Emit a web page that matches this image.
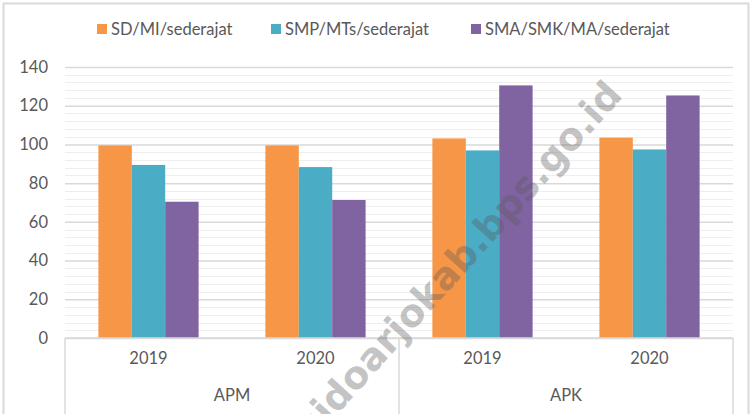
<!DOCTYPE html>
<html lang="en">
  <head>
    <meta charset="UTF-8" />
    <title>APM dan APK</title>
    <style>
      body {
        margin: 0;
        background-color: #ffffff;
      }
      text {
        font-family: Lato, "Open Sans", sans-serif;
        fill: #595959;
      }
    </style>
  </head>
  <body>
    <div id="chart"></div>

    <script src="https://d3js.org/d3.v7.min.js"></script>
    <script>
      // Data
      const groups = ["APM", "APK"];
      const years = ["2019", "2020"];
      const series = ["SD/MI/sederajat", "SMP/MTs/sederajat", "SMA/SMK/MA/sederajat"];
      const colors = ["#F79646", "#4BACC6", "#8064A2"];
      // one array per series, in order APM 2019, APM 2020, APK 2019, APK 2020
      const sdValues = [99.5, 99.5, 103.1, 103.5];
      const smpValues = [89.4, 88.3, 96.9, 97.4];
      const smaValues = [70.4, 71.3, 130.5, 125.3];
      const yTicks = [0, 20, 40, 60, 80, 100, 120, 140];

      const width = 752;
      const height = 414;
      const margin = { top: 67, right: 19, bottom: 76, left: 65 };

      const categories = [];
      groups.forEach((g) => years.forEach((yr) => categories.push(g + " " + yr)));
      const valueSets = [sdValues, smpValues, smaValues];

      const svg = d3
        .select("#chart")
        .append("svg")
        .attr("width", width)
        .attr("height", height);

      // outer frame
      svg
        .append("rect")
        .attr("x", 3.5)
        .attr("y", 3.5)
        .attr("width", 745)
        .attr("height", 430)
        .attr("fill", "none")
        .attr("stroke", "#d9d9d9")
        .attr("stroke-width", 2);

      const x0 = d3
        .scaleBand()
        .domain(categories)
        .range([margin.left, width - margin.right])
        .paddingInner(0.4)
        .paddingOuter(0.2);

      const x1 = d3
        .scaleBand()
        .domain(series)
        .range([0, x0.bandwidth()]);

      const y = d3
        .scaleLinear()
        .domain([0, 140])
        .range([height - margin.bottom, margin.top]);

      // minor gridlines
      const minor = d3.range(0, 141, 4).filter((v) => v % 20 !== 0);
      svg
        .append("g")
        .selectAll("line")
        .data(minor)
        .join("line")
        .attr("x1", margin.left)
        .attr("x2", width - margin.right)
        .attr("y1", (d) => Math.round(y(d)) + 0.5)
        .attr("y2", (d) => Math.round(y(d)) + 0.5)
        .attr("stroke", "#eeeeee")
        .attr("stroke-width", 1);

      // major gridlines + y labels
      const yAxis = d3
        .axisLeft(y)
        .tickValues(yTicks)
        .tickSize(-(width - margin.left - margin.right))
        .tickPadding(17);
      const gy = svg
        .append("g")
        .attr("transform", "translate(" + margin.left + ",0)")
        .call(yAxis);
      gy.select(".domain").remove();
      gy.selectAll(".tick line").attr("stroke", "#d9d9d9").attr("stroke-width", 1.5);
      gy.selectAll(".tick text")
        .style("font-size", "16.5px")
        .style("font-family", "Lato, 'Open Sans', sans-serif")
        .attr("fill", "#595959");

      // bars
      const gBars = svg
        .append("g")
        .selectAll("g")
        .data(categories)
        .join("g")
        .attr("transform", (d) => "translate(" + x0(d) + ",0)");

      gBars
        .selectAll("rect")
        .data((d, i) => series.map((s, j) => ({ s: s, v: valueSets[j][i], c: colors[j] })))
        .join("rect")
        .attr("x", (d) => x1(d.s))
        .attr("y", (d) => y(d.v))
        .attr("width", x1.bandwidth())
        .attr("height", (d) => y(0) - y(d.v))
        .attr("fill", (d) => d.c);

      // category axis box
      const baseY = y(0);
      const axisG = svg.append("g").attr("stroke", "#d9d9d9").attr("stroke-width", 1.5);
      axisG
        .append("line")
        .attr("x1", margin.left)
        .attr("x2", width - margin.right)
        .attr("y1", baseY)
        .attr("y2", baseY);
      const groupEdges = [margin.left, (margin.left + width - margin.right) / 2, width - margin.right];
      axisG
        .selectAll("line.sep")
        .data(groupEdges)
        .join("line")
        .attr("class", "sep")
        .attr("x1", (d) => d)
        .attr("x2", (d) => d)
        .attr("y1", baseY)
        .attr("y2", height);

      svg
        .append("g")
        .selectAll("text")
        .data(categories)
        .join("text")
        .attr("x", (d) => x0(d) + x0.bandwidth() / 2)
        .attr("y", baseY + 26)
        .attr("text-anchor", "middle")
        .style("font-size", "16.5px")
        .text((d) => d.split(" ")[1]);

      svg
        .append("g")
        .selectAll("text")
        .data(groups)
        .join("text")
        .attr("x", (d, i) => (groupEdges[i] + groupEdges[i + 1]) / 2)
        .attr("y", baseY + 63)
        .attr("text-anchor", "middle")
        .style("font-size", "16.5px")
        .text((d) => d);

      // legend
      const legendX = [97, 271, 471];
      const legend = svg
        .append("g")
        .selectAll("g")
        .data(series)
        .join("g")
        .attr("transform", (d, i) => "translate(" + legendX[i] + ",24)");
      legend
        .append("rect")
        .attr("width", 10)
        .attr("height", 10)
        .attr("fill", (d, i) => colors[i]);
      legend
        .append("text")
        .attr("x", 14)
        .attr("y", 11)
        .style("font-size", "16.5px")
        .text((d) => d);

      // watermark
      svg
        .append("text")
        .attr("transform", "translate(624,96) rotate(-48)")
        .attr("text-anchor", "end")
        .style("font-size", "38px")
        .style("font-weight", "bold")
        .style("font-family", "'DejaVu Sans', sans-serif")
        .attr("fill", "#cfcfcf")
        .attr("opacity", 0.35)
        .text("sidoarjokab.bps.go.id");
    </script>
  </body>
</html>
